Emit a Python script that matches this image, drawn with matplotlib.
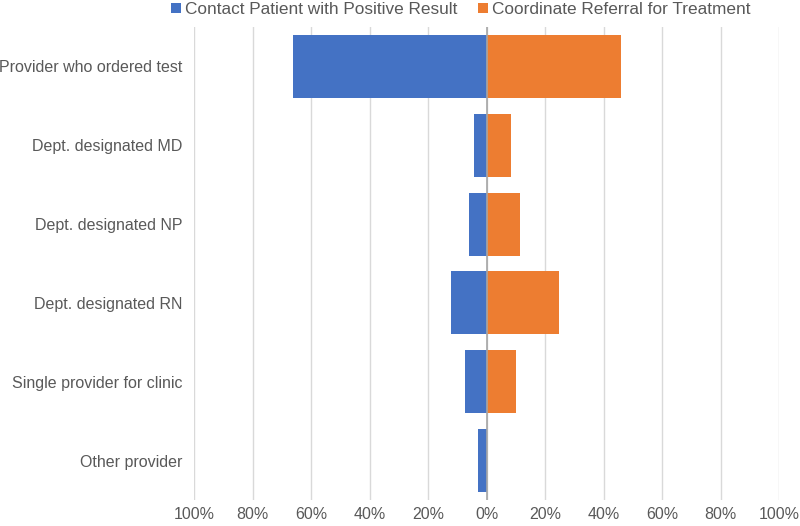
import numpy as np
import matplotlib
matplotlib.use("Agg")
import matplotlib.pyplot as plt
from matplotlib.ticker import FuncFormatter

categories = ["Provider who ordered test", "Dept. designated MD", "Dept. designated NP",
              "Dept. designated RN", "Single provider for clinic", "Other provider"]
contact = [66.3, 4.4, 6.0, 12.2, 7.5, 2.9]
referral = [46.0, 8.3, 11.4, 24.6, 10.0, 0.0]
series_names = ["Contact Patient with Positive Result", "Coordinate Referral for Treatment"]

plt.rcParams['font.family'] = ['Liberation Sans', 'DejaVu Sans']
text_color = "#595959"

fig = plt.figure(figsize=(8, 5.26), dpi=100)
ax = fig.add_axes([0.2425, 0.0494, 0.974 - 0.2425, 0.9487 - 0.0494])

y = np.arange(len(categories))
ax.barh(y, [-v for v in contact], height=0.8, color="#4472C4", label=series_names[0], zorder=3)
ax.barh(y, referral, height=0.8, color="#ED7D31", label=series_names[1], zorder=3)

ax.set_xlim(-100, 100)
ax.set_ylim(len(categories) - 0.5, -0.5)
ax.set_xticks(np.arange(-100, 101, 20))
ax.xaxis.set_major_formatter(FuncFormatter(lambda v, p: f"{abs(int(round(v)))}%"))
ax.set_yticks(y)
ax.set_yticklabels(categories)
ax.grid(axis="x", color="#D9D9D9", linewidth=1, zorder=0)
ax.axvline(0, color="#A6A6A6", linewidth=1.2, zorder=4)
for s in ax.spines.values():
    s.set_visible(False)
ax.tick_params(axis="both", length=0, labelsize=11.5, colors=text_color)
ax.tick_params(axis="y", pad=8.5)
ax.tick_params(axis="x", pad=5)

ax.legend(loc="upper center", bbox_to_anchor=(461 / 800, 1.0 - 2 / 526),
          bbox_transform=fig.transFigure, ncol=2, frameon=False,
          fontsize=12.4, labelcolor=text_color, handlelength=0.55, handleheight=0.55,
          handletextpad=0.25, columnspacing=1.2, borderaxespad=0, borderpad=0)

fig.savefig("out.png", dpi=100)
